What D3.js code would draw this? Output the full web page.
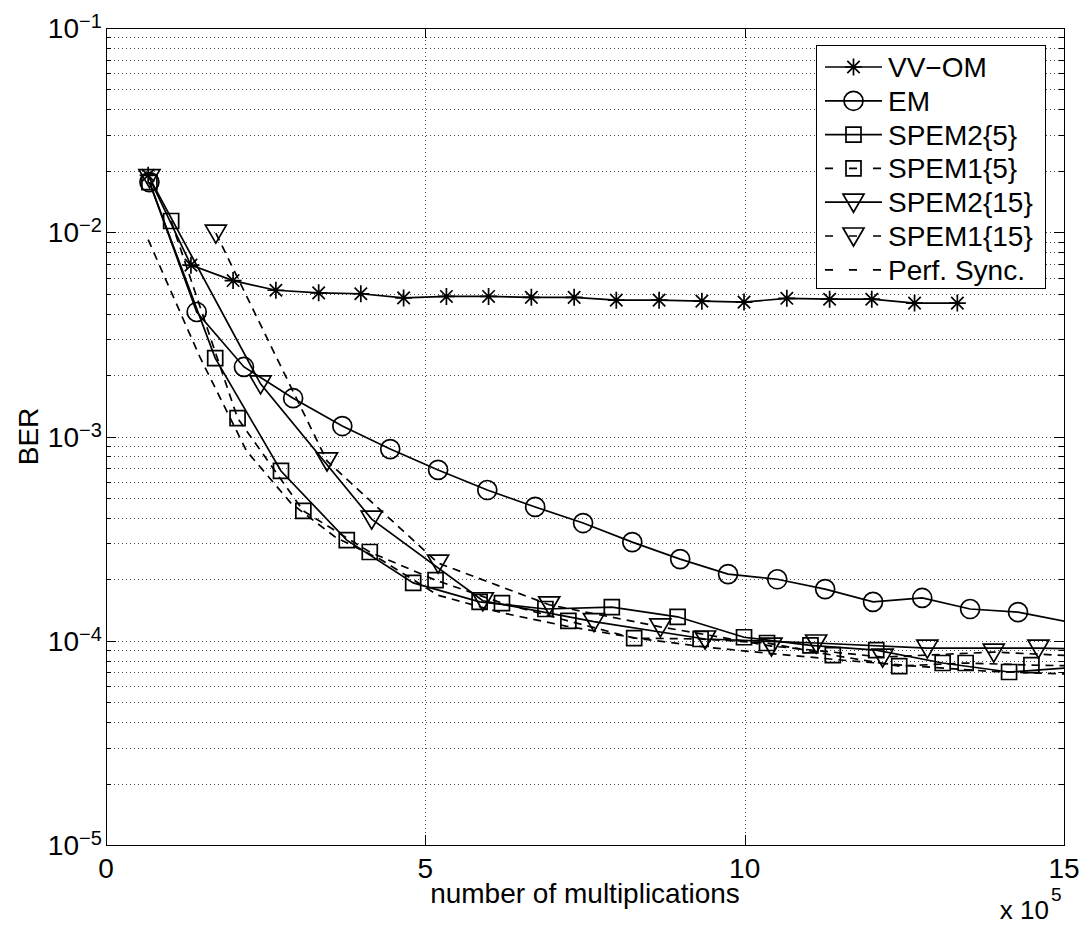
<!DOCTYPE html>
<html><head><meta charset="utf-8">
<script src="https://cdn.jsdelivr.net/npm/d3@7"></script>
<style>
body{margin:0;background:#fff}
svg{display:block}
text{font-family:"Liberation Sans",Arial,Helvetica,sans-serif;fill:#000}
</style>
</head><body>
<svg id="chart" width="1088" height="929"></svg>
<script>
// ---------------- data ----------------
const xTicks = [0, 5, 10, 15];
const yTickExps = [-1, -2, -3, -4, -5];
const legendNames = ["VV\u2212OM", "EM", "SPEM2{5}", "SPEM1{5}", "SPEM2{15}", "SPEM1{15}", "Perf. Sync."];

const vvomX = [0.66,1.33,1.99,2.66,3.33,3.99,4.66,5.33,5.99,6.66,7.33,7.99,8.66,9.33,9.99,10.66,11.33,11.99,12.66,13.33];
const vvomY = [1.9e-2,6.9e-3,5.8e-3,5.2e-3,5.05e-3,5.0e-3,4.77e-3,4.85e-3,4.85e-3,4.8e-3,4.8e-3,4.65e-3,4.65e-3,4.6e-3,4.55e-3,4.75e-3,4.7e-3,4.7e-3,4.5e-3,4.5e-3];

const emX = [0.68,1.42,2.16,2.93,3.70,4.45,5.20,5.97,6.72,7.47,8.24,8.99,9.74,10.51,11.26,12.01,12.78,13.53,14.28,15.04];
const emY = [1.76e-2,4.07e-3,2.19e-3,1.54e-3,1.125e-3,8.68e-4,6.86e-4,5.47e-4,4.52e-4,3.77e-4,3.04e-4,2.51e-4,2.12e-4,2.0e-4,1.79e-4,1.55e-4,1.62e-4,1.43e-4,1.38e-4,1.24e-4];

const spem2_5X = [0.68,1.71,2.74,3.77,4.81,5.85,6.88,7.92,8.95,9.99,11.03,12.06,13.10,14.14,15.17];
const spem2_5Y = [1.76e-2,2.42e-3,6.78e-4,3.11e-4,1.92e-4,1.55e-4,1.43e-4,1.46e-4,1.31e-4,1.04e-4,9.5e-5,9.0e-5,7.78e-5,7.03e-5,7.4e-5];

const spem1_5X = [1.02,2.06,3.09,4.13,5.16,6.20,7.24,8.27,9.31,10.35,11.38,12.42,13.46,14.49,15.53];
const spem1_5Y = [1.135e-2,1.23e-3,4.32e-4,2.72e-4,1.98e-4,1.53e-4,1.25e-4,1.03e-4,1.02e-4,9.75e-5,8.5e-5,7.52e-5,7.78e-5,7.6e-5,7.5e-5];

const spem2_15X = [0.68,2.42,4.16,5.90,7.64,9.38,11.12,12.86,14.60,16.34];
const spem2_15Y = [1.85e-2,1.81e-3,3.94e-4,1.57e-4,1.24e-4,1.02e-4,9.75e-5,9.2e-5,9.2e-5,9.0e-5];

const spem1_15X = [1.72,3.46,5.20,6.94,8.68,10.42,12.16,13.90,15.64];
const spem1_15Y = [9.9e-3,7.59e-4,2.40e-4,1.50e-4,1.17e-4,9.42e-5,8.32e-5,8.8e-5,8.3e-5];

const perfX = [0.66,1.47,2.2,2.9,3.6,4.3,5.2,6.2,7.2,8.3,9.4,10.5,11.6,12.7,13.8,14.9,16.0];
const perfY = [9.2e-3,2.45e-3,8.5e-4,4.7e-4,3.2e-4,2.5e-4,1.67e-4,1.37e-4,1.18e-4,1.03e-4,9.3e-5,8.6e-5,8.0e-5,7.5e-5,7.1e-5,6.9e-5,6.7e-5];

// ---------------- layout ----------------
const L = 106, R = 1064, T = 28, B = 845;
const svg = d3.select("#chart");
const x = d3.scaleLinear().domain([0, 15]).range([L, R]);
const y = d3.scaleLog().domain([1e-5, 1e-1]).range([B, T]);

const series = [
  {name: legendNames[0], xs: vvomX, ys: vvomY, marker: "star", dash: null},
  {name: legendNames[1], xs: emX, ys: emY, marker: "circle", dash: null},
  {name: legendNames[2], xs: spem2_5X, ys: spem2_5Y, marker: "square", dash: null},
  {name: legendNames[3], xs: spem1_5X, ys: spem1_5Y, marker: "square", dash: "8,6"},
  {name: legendNames[4], xs: spem2_15X, ys: spem2_15Y, marker: "tri", dash: null},
  {name: legendNames[5], xs: spem1_15X, ys: spem1_15Y, marker: "tri", dash: "8,6"},
  {name: legendNames[6], xs: perfX, ys: perfY, marker: null, dash: "8,6"}
];

// ---------------- grid ----------------
const grid = svg.append("g").attr("stroke", "#000").attr("stroke-width", 1)
  .attr("stroke-dasharray", "1,3").attr("shape-rendering", "crispEdges").attr("opacity", 0.7);
const minorVals = [];
for (let e = -5; e < -1 + 1e-9; e++) {
  for (let m = 1; m <= 9; m++) {
    const v = m * Math.pow(10, e);
    if (v > 1e-5 * 1.0001 && v < 1e-1 * 0.9999) minorVals.push(v);
  }
}
minorVals.forEach(v => {
  const yy = Math.round(y(v)) + 0.5;
  grid.append("line").attr("x1", L).attr("x2", R).attr("y1", yy).attr("y2", yy);
});
xTicks.filter(t => t > 0 && t < 15).forEach(t => {
  const xx = Math.round(x(t)) + 0.5;
  grid.append("line").attr("x1", xx).attr("x2", xx).attr("y1", T).attr("y2", B);
});

// ---------------- ticks ----------------
const ticks = svg.append("g").attr("stroke", "#000").attr("stroke-width", 1).attr("shape-rendering", "crispEdges");
xTicks.forEach(t => {
  const xx = Math.round(x(t)) + 0.5;
  ticks.append("line").attr("x1", xx).attr("x2", xx).attr("y1", B).attr("y2", B - 10);
  ticks.append("line").attr("x1", xx).attr("x2", xx).attr("y1", T).attr("y2", T + 10);
});
yTickExps.forEach(e => {
  const yy = Math.round(y(Math.pow(10, e))) + 0.5;
  ticks.append("line").attr("x1", L).attr("x2", L + 10).attr("y1", yy).attr("y2", yy);
  ticks.append("line").attr("x1", R).attr("x2", R - 10).attr("y1", yy).attr("y2", yy);
});
minorVals.forEach(v => {
  if (Math.abs(Math.log10(v) - Math.round(Math.log10(v))) < 1e-9) return;
  const yy = Math.round(y(v)) + 0.5;
  ticks.append("line").attr("x1", L).attr("x2", L + 5).attr("y1", yy).attr("y2", yy);
  ticks.append("line").attr("x1", R).attr("x2", R - 5).attr("y1", yy).attr("y2", yy);
});

// ---------------- data ----------------
svg.append("clipPath").attr("id", "clip").append("rect")
  .attr("x", L).attr("y", T).attr("width", R - L).attr("height", B - T);
const plot = svg.append("g").attr("clip-path", "url(#clip)");

function markerPath(type) {
  switch (type) {
    case "star": return "M0,-8.5V8.5M-8.5,0H8.5M-6.2,-6.2L6.2,6.2M-6.2,6.2L6.2,-6.2";
    case "circle": return d3.symbol().type(d3.symbolCircle).size(Math.PI * 9.5 * 9.5)();
    case "square": return "M-7.5,-7.5H7.5V7.5H-7.5Z";
    case "tri": return "M-10.5,-8H10.5L0,10Z";
  }
  return "";
}

const line = d3.line().x(d => x(d[0])).y(d => y(d[1]));
series.forEach(s => {
  const pts = s.xs.map((v, i) => [v, s.ys[i]]);
  plot.append("path").attr("d", line(pts)).attr("fill", "none").attr("stroke", "#000")
    .attr("stroke-width", 1.7).attr("stroke-dasharray", s.dash);
  if (s.marker) {
    plot.selectAll(null).data(pts.filter(p => p[0] <= 15)).enter().append("path")
      .attr("transform", d => `translate(${x(d[0])},${y(d[1])})`)
      .attr("d", markerPath(s.marker)).attr("fill", "none").attr("stroke", "#000").attr("stroke-width", 1.7);
  }
});

// ---------------- box ----------------
svg.append("rect").attr("x", L + 0.5).attr("y", T + 0.5).attr("width", R - L).attr("height", B - T)
  .attr("fill", "none").attr("stroke", "#000").attr("stroke-width", 1.6).attr("shape-rendering", "crispEdges");

// ---------------- tick labels ----------------
xTicks.forEach(t => {
  svg.append("text").attr("x", x(t)).attr("y", 878).attr("text-anchor", "middle")
    .attr("font-size", 28).text(t);
});
yTickExps.forEach(e => {
  const yy = y(Math.pow(10, e));
  svg.append("text").attr("x", 79).attr("y", yy + 10).attr("text-anchor", "end").attr("font-size", 28).text("10");
  svg.append("text").attr("x", 79).attr("y", yy).attr("text-anchor", "start").attr("font-size", 20).text("\u2212" + (-e));
});

// axis labels
svg.append("text").attr("x", (L + R) / 2).attr("y", 903).attr("text-anchor", "middle")
  .attr("font-size", 28).text("number of multiplications");
svg.append("text").attr("transform", `translate(38,${(T + B) / 2}) rotate(-90)`).attr("text-anchor", "middle")
  .attr("font-size", 28).text("BER");
svg.append("text").attr("x", 1049).attr("y", 919).attr("text-anchor", "end").attr("font-size", 26).text("x 10");
svg.append("text").attr("x", 1051).attr("y", 901).attr("text-anchor", "start").attr("font-size", 19).text("5");

// ---------------- legend ----------------
const lg = svg.append("g");
lg.append("rect").attr("x", 816.5).attr("y", 45.5).attr("width", 229).attr("height", 243)
  .attr("fill", "#fff").attr("stroke", "#000").attr("stroke-width", 1.4).attr("shape-rendering", "crispEdges");
series.forEach((s, i) => {
  const cy = 67 + i * 33.8;
  lg.append("line").attr("x1", 825).attr("x2", 882).attr("y1", cy).attr("y2", cy)
    .attr("stroke", "#000").attr("stroke-width", 1.7).attr("stroke-dasharray", s.dash ? "8,16" : null);
  if (s.marker) {
    lg.append("path").attr("transform", `translate(853.5,${cy})`).attr("d", markerPath(s.marker))
      .attr("fill", "none").attr("stroke", "#000").attr("stroke-width", 1.7);
  }
  lg.append("text").attr("x", 888).attr("y", cy + 10).attr("font-size", 28).text(s.name);
});
</script>
</body></html>
